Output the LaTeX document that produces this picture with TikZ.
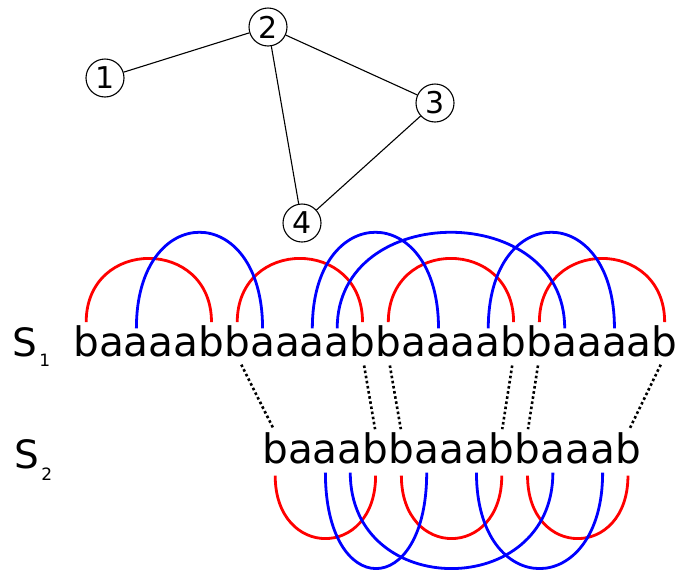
\documentclass[tikz,border=0pt]{standalone}
\usepackage{fontspec}
\setmainfont{DejaVu Sans}
\usetikzlibrary{shapes}

\begin{document}
\begin{tikzpicture}[x=1pt, y=-1pt]
\tikzset{
  vertex/.style={circle, draw, minimum size=38pt, inner sep=0pt, line width=1.1pt,
                 font=\fontsize{30}{30}\selectfont},
  letter/.style={inner sep=0pt, outer sep=0pt, anchor=base west,
                 font=\fontsize{40.6}{48}\selectfont},
  redarc/.style={red, line width=2.8pt},
  bluearc/.style={blue, line width=2.8pt},
  link/.style={line width=2.6pt, dash pattern=on 2.6pt off 2.6pt,
               shorten <=9pt, shorten >=3pt}
}
\useasboundingbox (0,0) rectangle (680,571);

% the graph
\path (105,78) node[vertex] (v1) {1};
\path (268,27) node[vertex] (v2) {2};
\path (435,103) node[vertex] (v3) {3};
\path (302,223) node[vertex] (v4) {4};

\draw[line width=1.1pt]
        (v1) -- (v2)
        (v2) -- (v3)
        (v2) -- (v4)
        (v3) -- (v4);

% the two strings, one node per letter
\node[inner sep=0pt, anchor=base west] (lbl1) at (12.5,356)
  {\fontsize{39}{46}\selectfont S\kern2pt\raisebox{-10pt}{\fontsize{17}{17}\selectfont 1}};
\node[inner sep=0pt, anchor=base west] (lbl2) at (14.5,468)
  {\fontsize{39}{46}\selectfont S\kern2pt\raisebox{-12pt}{\fontsize{17}{17}\selectfont 2}};

\node[inner sep=0pt, anchor=base east] (s1-start) at (73.3,356) {};
\foreach \c [count=\i from 0, remember=\i as \j (initially start)] in
  {b,a,a,a,a,b,b,a,a,a,a,b,b,a,a,a,a,b,b,a,a,a,a,b}{
    \node[letter] (s1-\i) at (s1-\j.base east) {\c};
}

\node[inner sep=0pt, anchor=base east] (s2-start) at (262.3,463) {};
\foreach \c [count=\i from 0, remember=\i as \j (initially start)] in
  {b,a,a,a,b,b,a,a,a,b,b,a,a,a,b}{
    \node[letter] (s2-\i) at (s2-\j.base east) {\c};
}

% arcs above S1
\foreach \i/\j in {0/5,6/11,12/17,18/23}
  \draw[redarc] ([yshift=3pt]s1-\i.north) .. controls +(0,-85) and +(0,-85) .. ([yshift=3pt]s1-\j.north);
\foreach \i/\j in {2/7,9/14,10/19,16/21}
  \draw[bluearc] ([yshift=5pt]s1-\i.north) .. controls +(0,-128) and +(0,-128) .. ([yshift=5pt]s1-\j.north);

% arcs below S2
\foreach \i/\j in {0/4,5/9,10/14}
  \draw[redarc] ([yshift=-12pt]s2-\i.south) .. controls +(0,84) and +(0,84) .. ([yshift=-12pt]s2-\j.south);
\foreach \i/\j in {2/6,3/11,8/13}
  \draw[bluearc] ([yshift=-9pt]s2-\i.south) .. controls +(0,128) and +(0,128) .. ([yshift=-9pt]s2-\j.south);

% matching b's
\foreach \i/\j in {6/0,11/4,12/5,17/9,18/10,23/14}
  \draw[link] (s1-\i.south) -- (s2-\j.north);
\end{tikzpicture}
\end{document}
